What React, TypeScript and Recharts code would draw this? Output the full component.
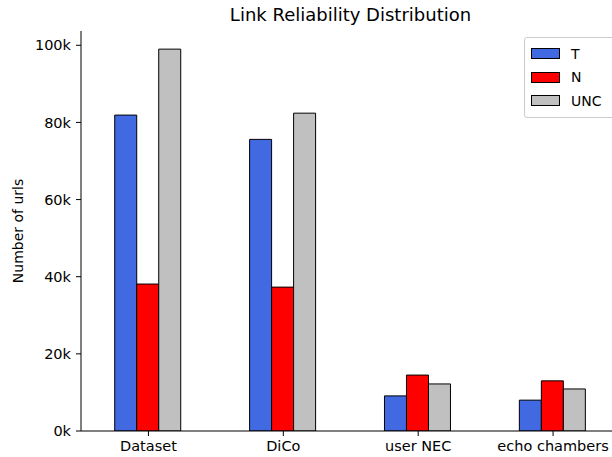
import React from "react";
import { BarChart, Bar, XAxis, YAxis } from "recharts";

const categories = ["Dataset", "DiCo", "user NEC", "echo chambers"];
const seriesT = [81900, 75600, 9100, 8000];
const seriesN = [38100, 37300, 14500, 13000];
const seriesUNC = [99000, 82400, 12200, 10900];
const yTicks = [0, 20000, 40000, 60000, 80000, 100000];
const seriesNames = ["T", "N", "UNC"];
const seriesColors = ["#4169E1", "#FF0000", "#C0C0C0"];

const data = categories.map((c, i) => ({
  name: c,
  T: seriesT[i],
  N: seriesN[i],
  UNC: seriesUNC[i],
}));

const FONT = "DejaVu Sans, sans-serif";

const LegendBox = () => (
  <div
    style={{
      position: "absolute",
      left: 524,
      top: 37,
      border: "1px solid #cccccc",
      borderRadius: 3,
      background: "rgba(255,255,255,0.8)",
      padding: "4px 20px 4px 6px",
      fontFamily: FONT,
      fontSize: 14,
      color: "#000",
    }}
  >
    {seriesNames.map((n, i) => (
      <div key={n} style={{ display: "flex", alignItems: "center", height: 23.5 }}>
        <div
          style={{
            width: 27,
            height: 9,
            background: seriesColors[i],
            border: "1px solid #000",
            marginRight: 11,
          }}
        />
        <span>{n}</span>
      </div>
    ))}
  </div>
);

const YLabel = () => (
  <text
    x={18}
    y={231}
    transform="rotate(-90 18 231)"
    textAnchor="middle"
    dominantBaseline="central"
    style={{ fontFamily: FONT, fontSize: 14, fill: "#000" }}
  >
    Number of urls
  </text>
);

export default function App() {
  return (
    <div
      style={{
        position: "absolute",
        left: 0,
        top: 0,
        width: 612,
        height: 457,
        overflow: "hidden",
        background: "#fff",
      }}
    >
      <div
        style={{
          position: "absolute",
          left: 0,
          width: 701,
          top: 4,
          height: 22,
          lineHeight: "22px",
          textAlign: "center",
          fontFamily: FONT,
          fontSize: 18,
          color: "#000",
        }}
      >
        Link Reliability Distribution
      </div>
      <BarChart
        width={640}
        height={457}
        data={data}
        margin={{ top: 31, right: 19.5, left: 1, bottom: 0 }}
        barCategoryGap="25%"
        barGap={0}
      >
        <XAxis
          dataKey="name"
          height={26}
          tickSize={5}
          tickMargin={5}
          axisLine={{ stroke: "#000" }}
          tickLine={{ stroke: "#000" }}
          tick={{ fill: "#000", fontSize: 14.5, fontFamily: FONT }}
          interval={0}
        />
        <XAxis
          xAxisId="top"
          dataKey="name"
          orientation="top"
          height={0}
          tick={false}
          tickLine={false}
          axisLine={{ stroke: "#000" }}
        />
        <YAxis
          width={80}
          domain={[0, 103700]}
          ticks={yTicks}
          tickSize={5}
          tickMargin={5}
          tickFormatter={(v: number) => `${v / 1000}k`}
          axisLine={{ stroke: "#000" }}
          tickLine={{ stroke: "#000" }}
          tick={{ fill: "#000", fontSize: 14.5, fontFamily: FONT }}
          allowDataOverflow
          label={<YLabel />}
        />
        <Bar dataKey="T" fill={seriesColors[0]} stroke="#000" strokeWidth={1} isAnimationActive={false} />
        <Bar dataKey="N" fill={seriesColors[1]} stroke="#000" strokeWidth={1} isAnimationActive={false} />
        <Bar dataKey="UNC" fill={seriesColors[2]} stroke="#000" strokeWidth={1} isAnimationActive={false} />
      </BarChart>
      <LegendBox />
    </div>
  );
}
